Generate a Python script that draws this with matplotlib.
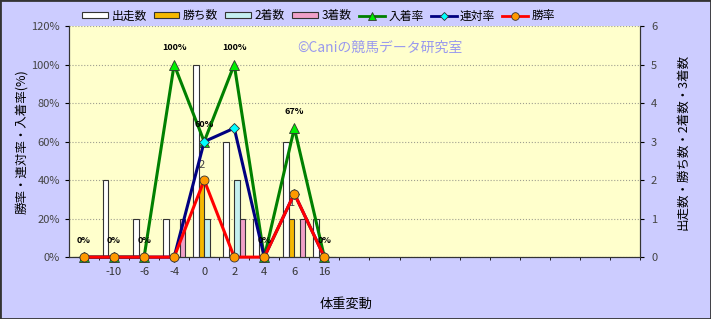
import matplotlib.pyplot as plt
import numpy as np
from matplotlib.patches import Patch, Rectangle
from matplotlib.lines import Line2D

plt.rcParams['font.family'] = ['Noto Sans CJK JP', 'DejaVu Sans']

# data
categories = ["", "-10", "-6", "-4", "0", "2", "4", "6", "16"]
runs = [0, 2, 1, 1, 5, 3, 1, 3, 1]        # 出走数
wins = [0, 0, 0, 0, 2, 0, 0, 1, 0]        # 勝ち数
seconds = [0, 0, 0, 0, 1, 2, 0, 0, 0]     # 2着数
thirds = [0, 0, 0, 1, 0, 1, 0, 1, 0]      # 3着数
place_rate = [0, 0, 0, 100, 60, 100, 0, 67, 0]   # 入着率
rentai_rate = [0, 0, 0, 0, 60, 67, 0, 33, 0]     # 連対率
win_rate = [0, 0, 0, 0, 40, 0, 0, 33, 0]         # 勝率
n_slots = 19

fig = plt.figure(figsize=(7.11, 3.19), dpi=100, facecolor='#ccccff')
ax = fig.add_axes([0.097, 0.194, 0.803, 0.724])
ax2 = ax.twinx()
ax.set_zorder(ax2.get_zorder() + 1)
ax.patch.set_visible(False)
ax2.patch.set_visible(True)
ax2.patch.set_facecolor('#ffffcc')

x = np.arange(len(categories))
w = 0.185
bar_specs = [(runs, 'white', '出走数'), (wins, '#f5b800', '勝ち数'),
             (seconds, '#c4f0f0', '2着数'), (thirds, '#f0a0c8', '3着数')]
for i, (vals, col, lab) in enumerate(bar_specs):
    ax2.bar(x + (i - 1.5) * w, vals, w, color=col, edgecolor='#333333', linewidth=0.8, zorder=3)

for xi, v in zip(x, wins):
    if v > 0:
        ax2.annotate(str(v), (xi - 0.5 * w, v), xytext=(0, 11), textcoords='offset points',
                     ha='center', va='center', fontsize=8, color='#444444', zorder=4)

ax2.set_ylim(0, 6)
ax2.set_yticks(range(7))
ax2.set_xlim(-0.5, n_slots - 0.5)
ax2.set_xticks(np.arange(n_slots) + 0.5, minor=True)
ax2.grid(True, which='minor', axis='x', linestyle=':', color='#a0a090', linewidth=0.8)
ax2.grid(True, which='major', axis='y', linestyle=':', color='#a0a090', linewidth=0.8)
ax2.set_axisbelow(True)
ax2.tick_params(axis='y', labelsize=8, labelcolor='#444444', length=3, pad=5)
ax2.tick_params(axis='x', which='minor', length=0)
ax2.set_ylabel('出走数・勝ち数・2着数・3着数', fontsize=9, labelpad=14)

ax.plot(x, place_rate, color='#008000', lw=2.2, marker='^', ms=7,
        mfc='#00ee00', mec='#333333', mew=0.6, zorder=3, clip_on=False)
ax.plot(x, rentai_rate, color='#000080', lw=2.2, marker='D', ms=5,
        mfc='#00ffff', mec='#333333', mew=0.6, zorder=4, clip_on=False)
ax.plot(x, win_rate, color='#ff0000', lw=2.2, marker='o', ms=6.5,
        mfc='#ff9900', mec='#333333', mew=0.6, zorder=5, clip_on=False)

for xi, v in zip(x, place_rate):
    ax.annotate(f'{v}%', (xi, v), xytext=(0, 12), textcoords='offset points',
                ha='center', va='center', fontsize=6.5, fontweight='bold', zorder=6)

ax.set_ylim(0, 120)
ax.set_yticks(range(0, 121, 20))
ax.set_yticklabels([f'{t}%' for t in range(0, 121, 20)])
ax.set_xlim(-0.5, n_slots - 0.5)
ax.set_xticks(x)
ax.set_xticklabels(categories)
ax.tick_params(axis='y', labelsize=8, labelcolor='#444444', length=3)
ax.tick_params(axis='x', labelsize=8, labelcolor='#333333', length=0, pad=7)
ax.set_ylabel('勝率・連対率・入着率(%)', fontsize=9, labelpad=2)
ax.set_xlabel('体重変動', fontsize=9.5)
ax.xaxis.set_label_coords(0.485, -0.175)

for a in (ax, ax2):
    a.spines['top'].set_visible(False)
    for s in ('left', 'right', 'bottom'):
        a.spines[s].set_color('#333333')

ax.text(0.545, 0.905, '©Caniの競馬データ研究室', transform=ax.transAxes,
        ha='center', va='center', fontsize=10, color='#9999ee', zorder=6)

handles = [Patch(facecolor=c, edgecolor='#333333', linewidth=0.8, label=l) for _, c, l in bar_specs]
handles += [
    Line2D([], [], color='#008000', lw=2, marker='^', ms=6, mfc='#00ee00', mec='#333333', mew=0.6, label='入着率'),
    Line2D([], [], color='#000080', lw=2, marker='D', ms=4.5, mfc='#00ffff', mec='#333333', mew=0.6, label='連対率'),
    Line2D([], [], color='#ff0000', lw=2, marker='o', ms=5.5, mfc='#ff9900', mec='#333333', mew=0.6, label='勝率'),
]
fig.legend(handles=handles, loc='center', bbox_to_anchor=(0.448, 0.95), ncol=7, frameon=False,
           fontsize=8.5, handlelength=2.2, handleheight=0.4, handletextpad=0.3, columnspacing=0.6)

fig.patches.append(Rectangle((0, 0), 1, 1, transform=fig.transFigure, fill=False,
                             edgecolor='#333333', linewidth=2))

fig.savefig('out.png', dpi=100, facecolor=fig.get_facecolor())
